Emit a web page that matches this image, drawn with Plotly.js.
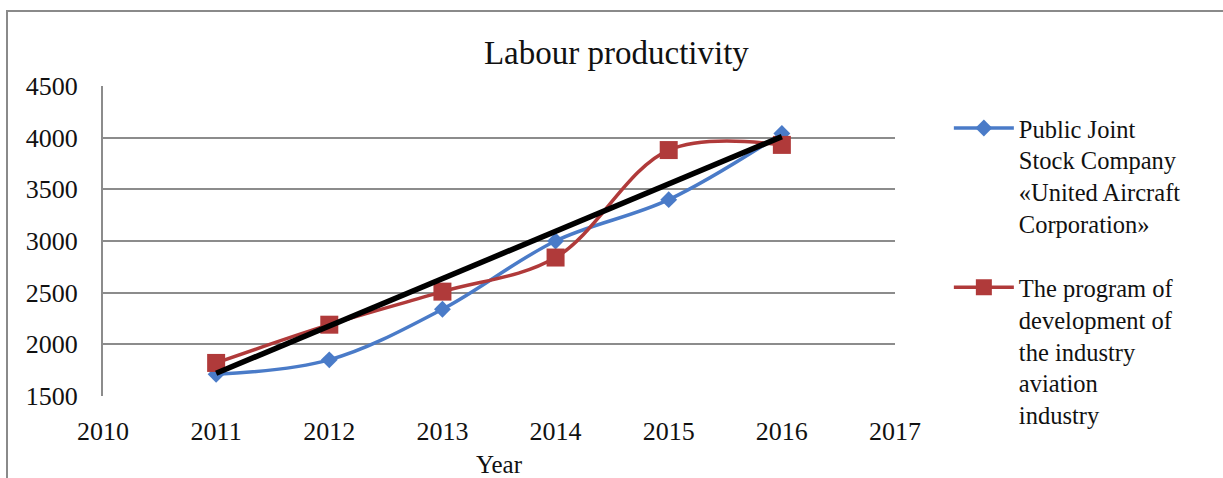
<!DOCTYPE html>
<html>
<head>
<meta charset="utf-8">
<script src="https://cdn.plot.ly/plotly-3.0.1.min.js"></script>
<style>
  html, body { margin: 0; padding: 0; background: #fff; }
  #frame { position: absolute; left: 6px; top: 10px; width: 1300px; height: 600px; border-left: 2px solid #8a8a8a; border-top: 2px solid #8a8a8a; }
  #chart { position: absolute; left: 0; top: 0; width: 1223px; height: 478px; }
</style>
</head>
<body>
<div id="frame"></div>
<div id="chart"></div>
<script>
const years = [2011, 2012, 2013, 2014, 2015, 2016];
const uacValues = [1710, 1850, 2340, 3000, 3400, 4040];
const programValues = [1820, 2190, 2510, 2840, 3880, 3930];
const trendYears = [2011, 2016];
const trendValues = [1720, 4010];
const xTicks = [2010, 2011, 2012, 2013, 2014, 2015, 2016, 2017];
const yTicks = [1500, 2000, 2500, 3000, 3500, 4000, 4500];
const seriesNames = [
  'Public Joint<br>Stock Company<br>«United Aircraft<br>Corporation»',
  'The program of<br>development of<br>the industry<br>aviation<br>industry'
];

const serif = 'Liberation Serif, Times New Roman, serif';
const textColor = '#111';

const traces = [
  {
    x: years, y: uacValues, name: seriesNames[0], type: 'scatter', mode: 'lines+markers',
    line: { color: '#4A7BC8', width: 3.5, shape: 'spline', smoothing: 1 },
    marker: { symbol: 'diamond', size: 13, color: '#4A7BC8' },
    legendgroup: 'a'
  },
  {
    x: years, y: programValues, name: seriesNames[1], type: 'scatter', mode: 'lines+markers',
    line: { color: '#B03A3A', width: 3.5, shape: 'spline', smoothing: 1 },
    marker: { symbol: 'square', size: 18, color: '#B03A3A' },
    legendgroup: 'b'
  },
  {
    x: trendYears, y: trendValues, type: 'scatter', mode: 'lines', showlegend: false,
    line: { color: '#000000', width: 5.5 }
  }
];

const layout = {
  width: 1223, height: 478,
  paper_bgcolor: 'rgba(0,0,0,0)', plot_bgcolor: 'rgba(0,0,0,0)',
  margin: { l: 103, r: 328, t: 86, b: 82, pad: 0 },
  font: { family: serif, color: textColor, size: 25 },
  title: { text: 'Labour productivity', font: { family: serif, size: 33, color: textColor }, x: 0.504, xanchor: 'center', y: 0.89, yanchor: 'middle' },
  xaxis: {
    range: [2010, 2017], tickvals: xTicks, ticktext: xTicks.map(String),
    showgrid: false, zeroline: false, showline: false, ticks: '',
    tickfont: { family: serif, size: 26, color: textColor }, ticklabelstandoff: 17,
    title: { text: 'Year', font: { family: serif, size: 25, color: textColor }, standoff: 10 }
  },
  yaxis: {
    range: [1500, 4500], tickvals: yTicks, ticktext: yTicks.map(String),
    showgrid: true, gridcolor: '#8c8c8c', gridwidth: 2,
    zeroline: false, showline: true, linecolor: '#8c8c8c', linewidth: 2, ticks: '',
    tickfont: { family: serif, size: 26, color: textColor }, ticklabelstandoff: 18
  },
  showlegend: true,
  legend: {
    x: 1.068, xanchor: 'left', y: 0.937, yanchor: 'top', valign: 'top',
    font: { family: serif, size: 24.5, color: textColor },
    tracegroupgap: 29, itemwidth: 60, bgcolor: 'rgba(0,0,0,0)', maxheight: 600
  }
};

Plotly.newPlot('chart', traces, layout, { staticPlot: true, displayModeBar: false });
</script>
</body>
</html>
